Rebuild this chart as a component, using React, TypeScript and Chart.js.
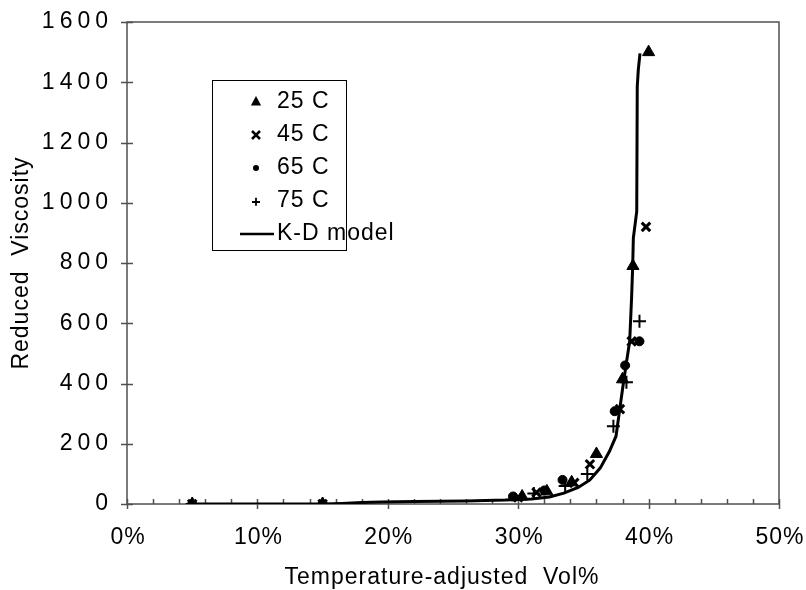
import React, { useEffect, useRef } from 'react';
import { Chart, registerables } from 'chart.js';

Chart.register(...registerables);

// Measured reduced viscosity vs temperature-adjusted volume fraction (%)
const vol25 = [5, 15, 30.3, 32.2, 34.1, 36.0, 38.0, 38.8, 40.0];
const visc25 = [0, 0, 25, 42, 72, 166, 414, 790, 1500];

const vol45 = [5, 15, 30.0, 31.4, 34.3, 35.5, 37.8, 38.7, 39.8];
const visc45 = [0, 0, 22, 38, 70, 132, 315, 540, 920];

const vol65 = [5, 15, 29.6, 32.0, 33.4, 37.4, 38.2, 39.3];
const visc65 = [0, 0, 25, 45, 80, 308, 460, 540];

const vol75 = [5, 15, 31.2, 33.6, 35.3, 37.3, 38.3, 39.3];
const visc75 = [0, 0, 35, 60, 100, 258, 404, 607];

// Krieger-Dougherty model curve
const modelVol = [5, 15, 16.5, 18, 19.5, 22, 26, 29, 31, 32.4, 33.5, 34.6, 35.5, 36.3, 37.0, 37.5, 38.0, 38.3, 38.55, 38.7, 38.78, 38.83, 39.09, 39.13, 39.21, 39.34];
const modelVisc = [0, 0, 2, 5, 7, 8, 10, 13, 17, 23, 36, 55, 80, 120, 175, 225, 381, 470, 540, 690, 789, 883, 971, 1386, 1441, 1496];

const legendLabels = ['25 C', '45 C', '65 C', '75 C', 'K-D model'];
const xTitle = 'Temperature-adjusted  Vol%';
const yTitle = 'Reduced  Viscosity';

const FONT = '"Liberation Sans", Arial, sans-serif';
const AXIS_COLOR = '#505050';

const toPoints = (xs: number[], ys: number[]) => xs.map((x, i) => ({ x, y: ys[i] }));

function drawMarker(ctx: CanvasRenderingContext2D, kind: string, cx: number, cy: number, s: number) {
  ctx.save();
  ctx.fillStyle = '#000';
  ctx.strokeStyle = '#000';
  ctx.beginPath();
  if (kind === 'triangle') {
    ctx.moveTo(cx, cy - s);
    ctx.lineTo(cx + s * 0.85, cy + s * 0.6);
    ctx.lineTo(cx - s * 0.85, cy + s * 0.6);
    ctx.closePath();
    ctx.fill();
  } else if (kind === 'crossRot') {
    ctx.lineWidth = 2.5;
    ctx.moveTo(cx - s * 0.5, cy - s * 0.5);
    ctx.lineTo(cx + s * 0.5, cy + s * 0.5);
    ctx.moveTo(cx + s * 0.5, cy - s * 0.5);
    ctx.lineTo(cx - s * 0.5, cy + s * 0.5);
    ctx.stroke();
  } else if (kind === 'circle') {
    ctx.arc(cx, cy, s * 0.5, 0, Math.PI * 2);
    ctx.fill();
  } else if (kind === 'cross') {
    ctx.lineWidth = 1.8;
    ctx.moveTo(cx - s * 0.5, cy + 1);
    ctx.lineTo(cx + s * 0.5, cy + 1);
    ctx.moveTo(cx, cy - s * 0.4);
    ctx.lineTo(cx, cy + s * 0.6);
    ctx.stroke();
  }
  ctx.restore();
}

const framePlugin = {
  id: 'frame',
  beforeDatasetsDraw(chart: any) {
    const { ctx, chartArea: a, scales } = chart;
    const xs = scales.x;
    const ys = scales.y;
    ctx.save();
    ctx.strokeStyle = AXIS_COLOR;
    ctx.lineWidth = 1.5;
    ctx.strokeRect(a.left, a.top, a.right - a.left, a.bottom - a.top);

    ctx.beginPath();
    ys.ticks.forEach((t: any) => {
      const py = Math.round(ys.getPixelForValue(t.value)) + 0.5;
      ctx.moveTo(a.left - 6, py);
      ctx.lineTo(a.left + 6, py);
    });
    xs.ticks.forEach((t: any) => {
      const px = Math.round(xs.getPixelForValue(t.value)) + 0.5;
      const major = t.value % 10 === 0;
      ctx.moveTo(px, a.bottom - 5);
      ctx.lineTo(px, a.bottom + (major ? 5 : 0));
    });
    ctx.stroke();

    ctx.fillStyle = '#000';
    ctx.font = `23px ${FONT}`;
    ctx.textBaseline = 'middle';

    // value axis labels
    ctx.textAlign = 'right';
    (ctx as any).letterSpacing = '5px';
    ys.ticks.forEach((t: any) => {
      ctx.fillText(String(t.value), a.left - 14, ys.getPixelForValue(t.value));
    });

    // volume axis labels
    ctx.textAlign = 'center';
    (ctx as any).letterSpacing = '1px';
    xs.ticks.forEach((t: any) => {
      if (t.value % 10 !== 0) return;
      ctx.fillText(`${t.value}%`, xs.getPixelForValue(t.value) + 1, a.bottom + 34);
    });

    // axis titles
    ctx.fillText(xTitle, (a.left + a.right) / 2 - 11, 578);
    ctx.save();
    ctx.translate(22, (a.top + a.bottom) / 2);
    ctx.rotate(-Math.PI / 2);
    ctx.fillText(yTitle, 0, 0);
    ctx.restore();
    ctx.restore();
  },
  afterDraw(chart: any) {
    const { ctx } = chart;
    const box = { left: 212, top: 80, right: 346, bottom: 250 };
    ctx.save();
    ctx.fillStyle = '#fff';
    ctx.fillRect(box.left, box.top, box.right - box.left, box.bottom - box.top);
    ctx.strokeStyle = '#000';
    ctx.lineWidth = 1;
    ctx.strokeRect(box.left + 0.5, box.top + 0.5, box.right - box.left, box.bottom - box.top);

    const kinds = ['triangle', 'crossRot', 'circle', 'cross', 'line'];
    ctx.font = `23px ${FONT}`;
    ctx.textBaseline = 'middle';
    ctx.textAlign = 'left';
    (ctx as any).letterSpacing = '1px';
    legendLabels.forEach((label, i) => {
      const cy = 102 + i * 33;
      const kind = kinds[i];
      if (kind === 'line') {
        ctx.save();
        ctx.strokeStyle = '#000';
        ctx.lineWidth = 2.5;
        ctx.beginPath();
        ctx.moveTo(240, cy);
        ctx.lineTo(274, cy);
        ctx.stroke();
        ctx.restore();
      } else {
        const size = kind === 'circle' ? 6 : kind === 'triangle' ? 6 : 8;
        drawMarker(ctx, kind, 256, cy, size);
      }
      ctx.fillStyle = '#000';
      ctx.fillText(label, 277, cy);
    });
    ctx.restore();
  },
};

export default function App() {
  const canvasRef = useRef<HTMLCanvasElement | null>(null);

  useEffect(() => {
    const canvas = canvasRef.current;
    if (!canvas) return;
    const chart = new Chart(canvas, {
      type: 'scatter',
      data: {
        datasets: [
          {
            label: legendLabels[0],
            data: toPoints(vol25, visc25),
            pointStyle: 'triangle',
            pointRadius: 7,
            backgroundColor: '#000',
            borderColor: '#000',
            borderWidth: 1,
          },
          {
            label: legendLabels[1],
            data: toPoints(vol45, visc45),
            pointStyle: 'crossRot',
            pointRadius: 6,
            backgroundColor: '#000',
            borderColor: '#000',
            borderWidth: 3,
          },
          {
            label: legendLabels[2],
            data: toPoints(vol65, visc65),
            pointStyle: 'circle',
            pointRadius: 4.5,
            backgroundColor: '#000',
            borderColor: '#000',
            borderWidth: 1,
          },
          {
            label: legendLabels[3],
            data: toPoints(vol75, visc75),
            pointStyle: 'cross',
            pointRadius: 6.5,
            backgroundColor: '#000',
            borderColor: '#000',
            borderWidth: 2,
          },
          {
            label: legendLabels[4],
            type: 'line',
            data: toPoints(modelVol, modelVisc),
            borderColor: '#000',
            borderWidth: 3,
            pointRadius: 0,
            tension: 0,
            fill: false,
          } as any,
        ],
      },
      options: {
        responsive: false,
        animation: false,
        devicePixelRatio: 1,
        layout: { padding: { left: 0, top: 22, right: 27, bottom: 0 } },
        plugins: { legend: { display: false }, tooltip: { enabled: false } },
        scales: {
          x: {
            type: 'linear',
            min: 0,
            max: 50,
            ticks: { display: false, stepSize: 2 },
            grid: { display: false },
            border: { display: false },
            afterFit: (s: any) => { s.height = 86; },
          },
          y: {
            type: 'linear',
            min: 0,
            max: 1600,
            ticks: { display: false, stepSize: 200 },
            grid: { display: false },
            border: { display: false },
            afterFit: (s: any) => { s.width = 127; },
          },
        },
      },
      plugins: [framePlugin],
    });
    return () => chart.destroy();
  }, []);

  return (
    <div style={{ position: 'fixed', left: 0, top: 0, width: 806, height: 590, background: '#fff' }}>
      <canvas ref={canvasRef} width={806} height={590} style={{ width: 806, height: 590, display: 'block' }} />
    </div>
  );
}
